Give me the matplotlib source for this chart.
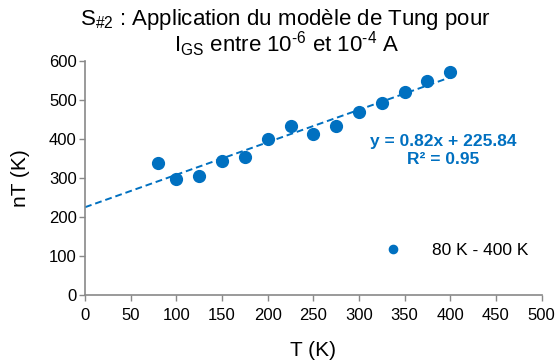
import numpy as np
import matplotlib.pyplot as plt

plt.rcParams["font.family"] = ["Liberation Sans", "DejaVu Sans"]
plt.rcParams["mathtext.fontset"] = "custom"
plt.rcParams["mathtext.rm"] = "Liberation Sans"

T = [80, 100, 125, 150, 175, 200, 225, 250, 275, 300, 325, 350, 375, 400]
nT = [340, 299, 307, 345, 354, 401, 435, 413, 435, 469, 492, 521, 550, 572]
eq_text = "y = 0.82x + 225.84\nR² = 0.95"
legend_label = "80 K - 400 K"

blue = "#0070C0"
gray = "#898989"

fig = plt.figure(figsize=(5.6, 3.62), dpi=100)
ax = fig.add_axes([0.152, 0.184, 0.815, 0.647])

ax.plot(T, nT, "o", color=blue, markersize=8.5, label=legend_label, zorder=3)

# linear trend line, extended back to T = 0
a, b = np.polyfit(T, nT, 1)
xt = np.array([0, 405])
ax.plot(xt, a * xt + b, "--", color=blue, lw=1.4, dashes=(3.5, 2), zorder=2)

ax.text(392, 371, eq_text, color=blue, fontsize=12.5, fontweight="bold",
        ha="center", va="center", linespacing=1.2)

ax.set_xlim(0, 500)
ax.set_ylim(0, 600)
ax.set_xticks(range(0, 501, 50))
ax.set_yticks(range(0, 601, 100))
for s in ["top", "right"]:
    ax.spines[s].set_visible(False)
for s in ["left", "bottom"]:
    ax.spines[s].set_color(gray)
    ax.spines[s].set_linewidth(1.2)
ax.tick_params(direction="out", length=4, width=1, color=gray,
               labelsize=12, labelcolor="black")
ax.tick_params(axis="x", pad=5)
ax.tick_params(axis="y", pad=2)

ax.set_xlabel("T (K)", fontsize=15)
ax.set_ylabel("nT (K)", fontsize=15)
ax.xaxis.set_label_coords(0.5, -0.195)
ax.yaxis.set_label_coords(-0.12, 0.5)

fig.text(0.51, 0.93, r"S$_{\#2}$ : Application du modèle de Tung pour",
         fontsize=16, ha="center", va="baseline")
fig.text(0.512, 0.856,
         "I$_{\\mathrm{GS}}$ entre 10$^{\u20106}$ et 10$^{\u20104}$ A",
         fontsize=16, ha="center", va="baseline")

ax.legend(loc="center left", bbox_to_anchor=(0.6125, 0.19), frameon=False,
          fontsize=12.5, markerscale=0.7, handletextpad=1.5,
          handlelength=1.5)

fig.savefig("out.png", dpi=100)
